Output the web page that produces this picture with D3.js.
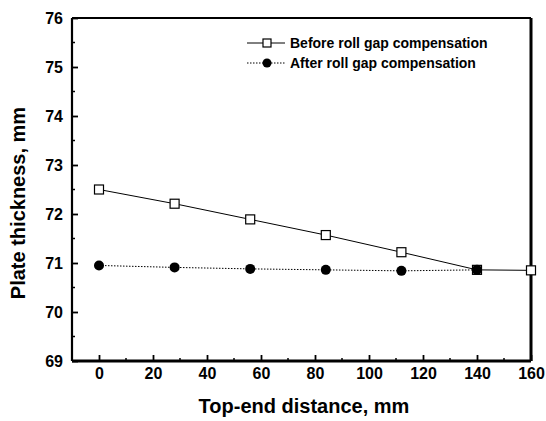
<!DOCTYPE html>
<html>
<head>
<meta charset="utf-8">
<script src="https://cdn.jsdelivr.net/npm/d3@7"></script>
<style>
  body { margin: 0; background: #fff; }
  text { font-family: "Liberation Sans", Arial, sans-serif; font-weight: bold; fill: #000; }
</style>
</head>
<body>
<div id="chart"></div>
<script>
// data
const distance = [0, 28, 56, 84, 112, 140, 160];
const beforeComp = [72.5, 72.21, 71.89, 71.57, 71.22, 70.86, 70.85];
const afterComp = [70.95, 70.91, 70.88, 70.86, 70.84, 70.86];
const xTicks = [0, 20, 40, 60, 80, 100, 120, 140, 160];
const yTicks = [69, 70, 71, 72, 73, 74, 75, 76];
const seriesNames = ["Before roll gap compensation", "After roll gap compensation"];

const W = 546, H = 421;
const margin = { top: 18, right: 15, bottom: 60, left: 72 };
const width = W - margin.left - margin.right;
const height = H - margin.top - margin.bottom;

const svg = d3.select("#chart").append("svg")
    .attr("width", W)
    .attr("height", H);

const g = svg.append("g")
    .attr("transform", `translate(${margin.left},${margin.top})`);

const x = d3.scaleLinear().domain([-10, 160]).range([0, width]);
const y = d3.scaleLinear().domain([69, 76]).range([height, 0]);

// minor ticks
const xMinor = d3.range(-10, 161, 10).filter(v => v % 20 !== 0);
const yMinor = d3.range(69.5, 76, 1);

g.selectAll(".xminor").data(xMinor).join("line")
    .attr("x1", d => x(d)).attr("x2", d => x(d))
    .attr("y1", height).attr("y2", height - 3)
    .attr("stroke", "#000").attr("stroke-width", 1.5);
g.selectAll(".yminor").data(yMinor).join("line")
    .attr("y1", d => y(d)).attr("y2", d => y(d))
    .attr("x1", 0).attr("x2", 3)
    .attr("stroke", "#000").attr("stroke-width", 1.5);

// axes with inward ticks
const xAxis = d3.axisBottom(x).tickValues(xTicks).tickSize(-6).tickPadding(7).tickFormat(d3.format("d"));
const yAxis = d3.axisLeft(y).tickValues(yTicks).tickSize(-6).tickPadding(9).tickFormat(d3.format("d"));

const xg = g.append("g").attr("transform", `translate(0,${height})`).call(xAxis);
const yg = g.append("g").call(yAxis);
[xg, yg].forEach(a => {
  a.select(".domain").remove();
  a.selectAll(".tick line").attr("stroke-width", 1.8);
  a.selectAll(".tick text").style("font-size", "16px");
});

// frame
g.append("line").attr("x1", 0).attr("x2", width).attr("y1", 0).attr("y2", 0).attr("stroke", "#000").attr("stroke-width", 2);
g.append("line").attr("x1", 0).attr("x2", width).attr("y1", height).attr("y2", height).attr("stroke", "#000").attr("stroke-width", 3);
g.append("line").attr("x1", 0).attr("x2", 0).attr("y1", 0).attr("y2", height).attr("stroke", "#000").attr("stroke-width", 2.2);
g.append("line").attr("x1", width).attr("x2", width).attr("y1", 0).attr("y2", height).attr("stroke", "#000").attr("stroke-width", 3);

// lines
const line = d3.line().x(d => x(d[0])).y(d => y(d[1]));
const beforePts = distance.map((d, i) => [d, beforeComp[i]]);
const afterPts = afterComp.map((v, i) => [distance[i], v]);

g.append("path").datum(beforePts).attr("d", line)
    .attr("fill", "none").attr("stroke", "#000").attr("stroke-width", 1);
g.append("path").datum(afterPts).attr("d", line)
    .attr("fill", "none").attr("stroke", "#000").attr("stroke-width", 1)
    .attr("stroke-dasharray", "1.5,1.5");

g.selectAll(".before").data(beforePts).join("rect")
    .attr("x", d => x(d[0]) - 4.5).attr("y", d => y(d[1]) - 4.5)
    .attr("width", 9).attr("height", 9)
    .attr("fill", "#fff").attr("stroke", "#000").attr("stroke-width", 1.2);
g.selectAll(".after").data(afterPts).join("circle")
    .attr("cx", d => x(d[0])).attr("cy", d => y(d[1])).attr("r", 5)
    .attr("fill", "#000");

// legend
const lg = svg.append("g");
lg.append("line").attr("x1", 247).attr("x2", 285).attr("y1", 43).attr("y2", 43).attr("stroke", "#000");
lg.append("rect").attr("x", 263).attr("y", 39).attr("width", 8).attr("height", 8)
    .attr("fill", "#fff").attr("stroke", "#000").attr("stroke-width", 1.2);
lg.append("line").attr("x1", 247).attr("x2", 285).attr("y1", 63).attr("y2", 63)
    .attr("stroke", "#000").attr("stroke-dasharray", "1.5,1.5");
lg.append("circle").attr("cx", 267).attr("cy", 63).attr("r", 4.5).attr("fill", "#000");
lg.selectAll(".ltext").data(seriesNames).join("text")
    .attr("x", 290).attr("y", (d, i) => 43 + i * 20).attr("dy", "0.35em")
    .style("font-size", "14px").text(d => d);

// axis titles
svg.append("text").attr("x", 304).attr("y", 413)
    .attr("text-anchor", "middle").style("font-size", "20px")
    .text("Top-end distance, mm");
svg.append("text").attr("transform", `translate(25,203) rotate(-90)`)
    .attr("text-anchor", "middle").style("font-size", "20px")
    .text("Plate thickness, mm");
</script>
</body>
</html>
